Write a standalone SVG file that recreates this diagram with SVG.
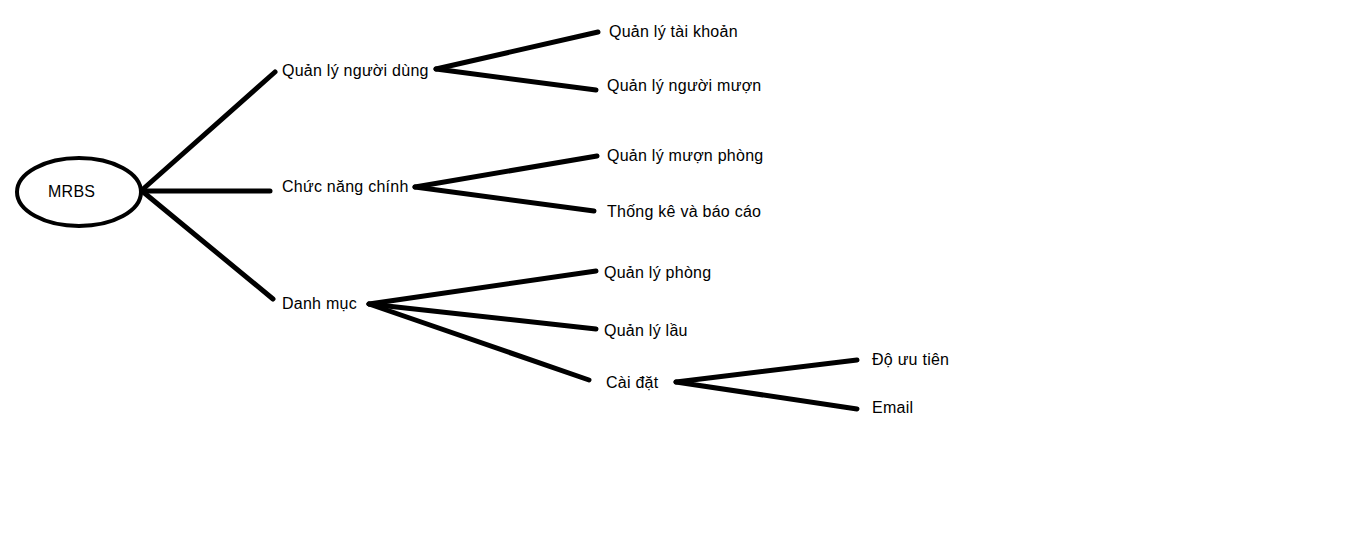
<svg xmlns="http://www.w3.org/2000/svg" width="1360" height="544" viewBox="0 0 1360 544">
<style>
.l{stroke:#000;stroke-width:5;stroke-linecap:round;fill:none}
.t{font-family:"Liberation Sans",Arial,sans-serif;font-size:16px;letter-spacing:0.25px;fill:#000}
</style>
<rect width="1360" height="544" fill="#fff"/>
<g id="connectors">
<line class="l" x1="142" y1="190" x2="275" y2="72"/>
<line class="l" x1="142" y1="191" x2="270" y2="191"/>
<line class="l" x1="142" y1="191" x2="273" y2="299"/>
<line class="l" x1="436" y1="69" x2="598" y2="32"/>
<line class="l" x1="436" y1="69" x2="596" y2="90"/>
<line class="l" x1="415" y1="187" x2="597" y2="156"/>
<line class="l" x1="415" y1="187" x2="594" y2="211"/>
<line class="l" x1="369" y1="304" x2="596" y2="271"/>
<line class="l" x1="369" y1="304" x2="596" y2="329"/>
<line class="l" x1="369" y1="304" x2="589" y2="380"/>
<line class="l" x1="676" y1="382" x2="857" y2="360"/>
<line class="l" x1="676" y1="382" x2="857" y2="409"/>
</g>
<g id="root"><ellipse cx="79" cy="192" rx="62" ry="34" fill="none" stroke="#000" stroke-width="4"/><text class="t" x="48" y="197" letter-spacing="0">MRBS</text></g>
<g id="n1"><text class="t" x="282" y="76">Quản lý người dùng</text></g>
<g id="n2"><text class="t" x="282" y="192">Chức năng chính</text></g>
<g id="n3"><text class="t" x="282" y="309">Danh mục</text></g>
<g id="n11"><text class="t" x="609" y="37">Quản lý tài khoản</text></g>
<g id="n12"><text class="t" x="607" y="91">Quản lý người mượn</text></g>
<g id="n21"><text class="t" x="607" y="161">Quản lý mượn phòng</text></g>
<g id="n22"><text class="t" x="607" y="217">Thống kê và báo cáo</text></g>
<g id="n31"><text class="t" x="604" y="278">Quản lý phòng</text></g>
<g id="n32"><text class="t" x="604" y="336">Quản lý lầu</text></g>
<g id="n33"><text class="t" x="606" y="388">Cài đặt</text></g>
<g id="n331"><text class="t" x="872" y="365">Độ ưu tiên</text></g>
<g id="n332"><text class="t" x="872" y="413">Email</text></g>
</svg>
